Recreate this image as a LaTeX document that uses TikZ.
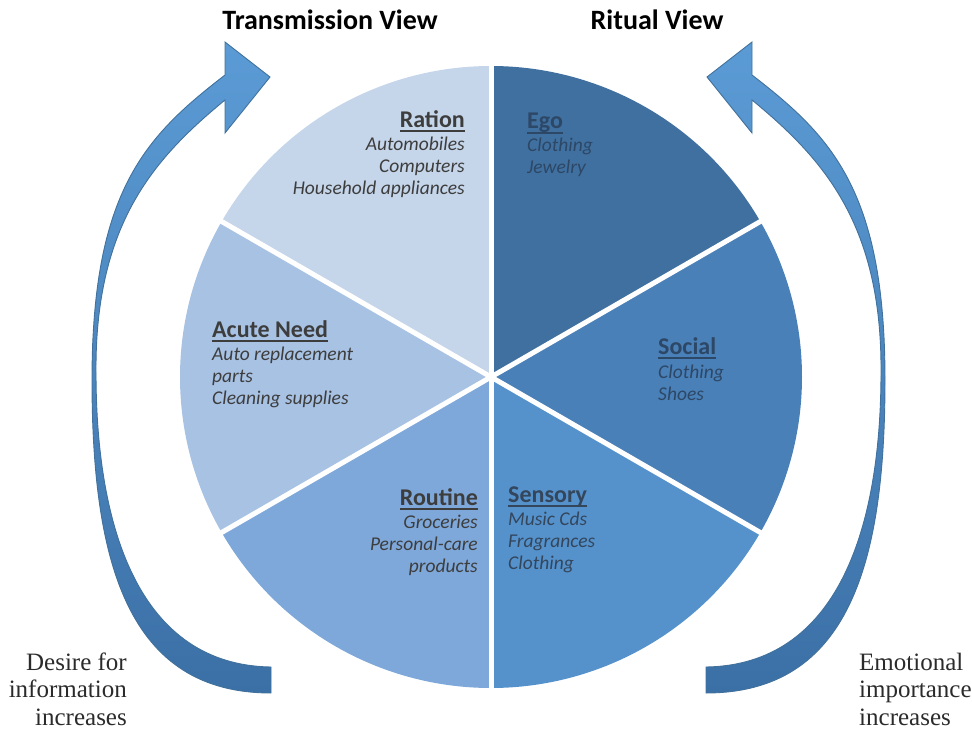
\documentclass[tikz,border=0pt]{standalone}
\usepackage{fontspec}
\setmainfont{Liberation Serif}
\newfontfamily\calib{Carlito}
\definecolor{ration}{HTML}{C5D5EA}
\definecolor{acute}{HTML}{A8C2E4}
\definecolor{routine}{HTML}{7EA8DA}
\definecolor{sensory}{HTML}{5592CC}
\definecolor{social}{HTML}{4A80B8}
\definecolor{ego}{HTML}{40709F}
\definecolor{inklight}{HTML}{3D3D3D}
\definecolor{inkmid}{HTML}{34465C}
\definecolor{inkdark}{HTML}{2D4766}
\definecolor{notes}{HTML}{2B2B2B}
\definecolor{arrowtop}{HTML}{5B9BD5}
\definecolor{arrowbot}{HTML}{3B70A6}
\definecolor{arrowline}{HTML}{41719C}
\newcommand{\wedgehead}[1]{{\fontsize{24}{23}\selectfont\bfseries\upshape
  \setbox0=\hbox{#1}\rlap{\rule[-5pt]{\wd0}{1.8pt}}\box0}}
% left curved arrow; the right one is its mirror image
\newcommand{\bentarrow}{%
  \shadedraw[arrowbody] (271,693) .. controls (128,693) and (92,563) .. (92,380)
    .. controls (92,190) and (146,136) .. (225,75)
    -- (225,42) -- (270,77) -- (225,133) -- (225,100)
    .. controls (156,157) and (95,222) .. (96,372)
    .. controls (96,532) and (141,665) .. (271,667) -- cycle;}
\tikzset{
  wedgelab/.style={font=\calib\fontsize{19.5}{22}\selectfont\itshape, inner sep=0pt},
  viewtitle/.style={font=\calib\fontsize{28}{30}\selectfont\bfseries, inner sep=0pt, anchor=base},
  note/.style={font=\fontsize{25}{27.5}\selectfont, text=notes, inner sep=0pt},
  spoke/.style={draw=white, line width=5pt},
  arrowbody/.style={top color=arrowtop, bottom color=arrowbot, draw=arrowline, line width=0.9pt},
}
\begin{document}
\begin{tikzpicture}[x=1pt, y=-1pt]
\useasboundingbox (0,0) rectangle (972,733);
\coordinate (O) at (491,377);

% pie wedges (angles run clockwise because y points down)
\foreach \a/\b/\c in {-30/-90/ego, 30/-30/social, 90/30/sensory,
                      150/90/routine, 210/150/acute, 270/210/ration}
  \fill[\c] (O) -- ++(\a:311) arc[start angle=\a, end angle=\b, radius=311] -- cycle;
\foreach \a in {30,90,...,330}
  \draw[spoke] (O) -- ++(\a:314);

% wedge texts (anchored on the baseline of their last line)
\node[wedgelab, text=inklight, align=right, anchor=base east] (ration) at (465,194)
  {\wedgehead{Ration}\\[1pt] Automobiles\\ Computers\\ Household appliances};
\node[wedgelab, text=inkdark, align=left, anchor=base west] (egolab) at (527,174)
  {\wedgehead{Ego}\\[1pt] Clothing\\ Jewelry};
\node[wedgelab, text=inklight, align=left, anchor=base west] (acutelab) at (212,404)
  {\wedgehead{Acute Need}\\[1pt] Auto replacement\\ parts\\ Cleaning supplies};
\node[wedgelab, text=inkdark, align=left, anchor=base west] (sociallab) at (658,400)
  {\wedgehead{Social}\\[2pt] Clothing\\ Shoes};
\node[wedgelab, text=inklight, align=right, anchor=base east] (routinelab) at (478,572)
  {\wedgehead{Routine}\\[1pt] Groceries\\ Personal-care\\ products};
\node[wedgelab, text=inkmid, align=left, anchor=base west] (sensorylab) at (508,569)
  {\wedgehead{Sensory}\\[1pt] Music Cds\\ Fragrances\\ Clothing};

% curved arrows
\bentarrow
\begin{scope}[cm={-1,0,0,1,(977pt,0pt)}]
  \bentarrow
\end{scope}

% titles and notes
\node[viewtitle] (transmission) at (330,30) {Transmission View};
\node[viewtitle] (ritual) at (657,30) {Ritual View};
\node[note, align=right, anchor=base east] (desire) at (127,725)
  {Desire for\\ information\\ increases};
\node[note, align=left, anchor=base west] (emotional) at (859,725)
  {Emotional\\ importance\\ increases};
\end{tikzpicture}
\end{document}
